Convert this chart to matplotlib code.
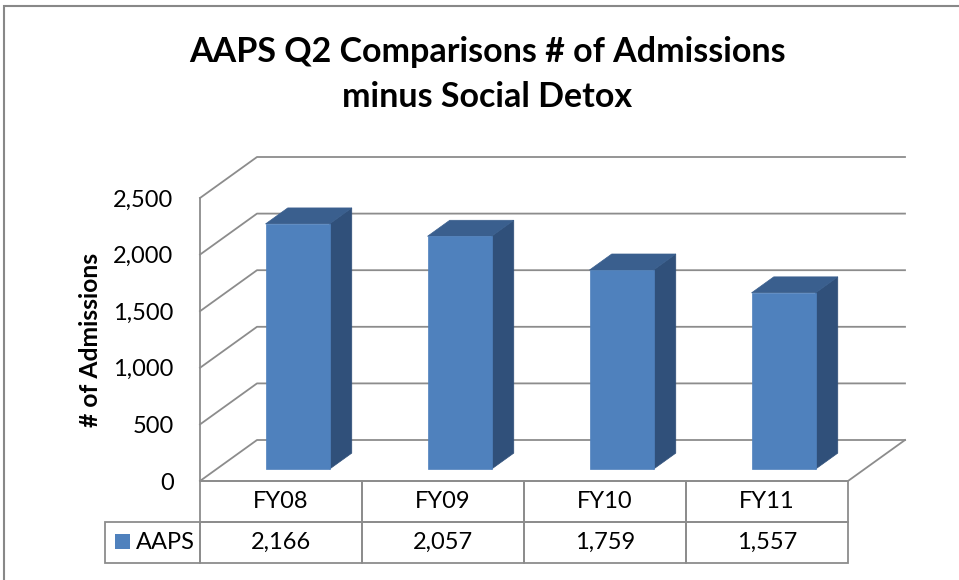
import matplotlib
matplotlib.use('Agg')
import matplotlib.pyplot as plt
from matplotlib.patches import Polygon, Rectangle
from matplotlib.ticker import FuncFormatter

plt.rcParams['font.family'] = ['Lato', 'DejaVu Sans']

categories = ['FY08', 'FY09', 'FY10', 'FY11']
admissions = [2166, 2057, 1759, 1557]
series_name = 'AAPS'
yticks = [0, 500, 1000, 1500, 2000, 2500]

front_col = '#4F81BD'
top_col = '#3A5F8E'
side_col = '#30507A'
grid_col = '#8C8C8C'

fig = plt.figure(figsize=(9.59, 5.80), dpi=100)
# axes spans the front plane of the 3d box
ax = fig.add_axes([200 / 959, 99 / 580, 648 / 959, 283 / 580])
ax.set_xlim(-0.5, len(categories) - 0.5)
ax.set_ylim(0, 2500)
ax.patch.set_visible(False)
for s in ax.spines.values():
    s.set_visible(False)

# oblique depth offset, in data units (57px right, 41px up for full depth)
DX = 57 / 162
DY = 41 * 2500 / 283


def proj(x, v, d):
    return (x + d * DX, v + d * DY)


x_left, x_right = -0.5, len(categories) - 0.5

# walls and gridlines
for v in yticks:
    pts = [proj(x_left, v, 0), proj(x_left, v, 1), proj(x_right, v, 1)]
    ax.plot(*zip(*pts), color=grid_col, lw=1.3, clip_on=False, zorder=1)
ax.plot([x_left, x_left], [0, 2500], color=grid_col, lw=1.3, clip_on=False, zorder=1)
# floor
floor = [proj(x_left, 0, 0), proj(x_right, 0, 0), proj(x_right, 0, 1)]
ax.plot(*zip(*floor), color=grid_col, lw=1.3, clip_on=False, zorder=1)

# columns
w = 64 / 162
f1, f2 = 0.29, 0.68
for i, v in enumerate(admissions):
    x0, x1 = i - w / 2, i + w / 2
    front = [proj(x0, 0, f1), proj(x1, 0, f1), proj(x1, v, f1), proj(x0, v, f1)]
    top = [proj(x0, v, f1), proj(x1, v, f1), proj(x1, v, f2), proj(x0, v, f2)]
    side = [proj(x1, 0, f1), proj(x1, 0, f2), proj(x1, v, f2), proj(x1, v, f1)]
    for poly, c in ((side, side_col), (top, top_col), (front, front_col)):
        ax.add_patch(Polygon(poly, closed=True, facecolor=c, edgecolor=c,
                             lw=0.5, clip_on=False, zorder=3))

# value axis
ax.set_xticks([])
ax.set_yticks(yticks)
ax.yaxis.set_major_formatter(FuncFormatter(lambda v, p: f'{int(v):,}'))
ax.tick_params(axis='y', length=0, pad=19, labelsize=17)

fig.text(90 / 959, 1 - 340 / 580, '# of Admissions', rotation=90, ha='center',
         va='center', fontsize=17.7, fontweight='bold')

# data table
cell_text = [[''] + categories, [series_name] + [f'{v:,}' for v in admissions]]
tbl = ax.table(cellText=cell_text, cellLoc='center',
               colWidths=[95] + [162] * len(categories),
               bbox=[-95 / 648, -82 / 283, 1 + 95 / 648, 82 / 283])
tbl.auto_set_font_size(False)
tbl.set_fontsize(17)
for (r, c), cell in tbl.get_celld().items():
    cell.set_edgecolor(grid_col)
    cell.set_linewidth(1.3)
    cell.set_facecolor('none')
tbl[0, 0].visible_edges = 'open'
tbl[1, 0].get_text().set_horizontalalignment('left')
tbl[1, 0].PAD = 0.33

# legend key in the table
fig.add_artist(Rectangle((115 / 959, 1 - 549 / 580), 15 / 959, 15 / 580,
                         transform=fig.transFigure, facecolor=front_col,
                         edgecolor='none'))

# title
fig.text(487.5 / 959, 1 - 52 / 580, 'AAPS Q2 Comparisons # of Admissions',
         ha='center', va='center', fontsize=24.5, fontweight='bold')
fig.text(487.5 / 959, 1 - 97 / 580, 'minus Social Detox',
         ha='center', va='center', fontsize=24.5, fontweight='bold')

# chart area border (cropped on right and bottom)
fig.add_artist(Rectangle((4 / 959, -0.1), 1.2, 1.1 - 6 / 580,
                         transform=fig.transFigure, fill=False,
                         edgecolor='#888888', lw=1.5))

fig.savefig('out.png', dpi=100)
